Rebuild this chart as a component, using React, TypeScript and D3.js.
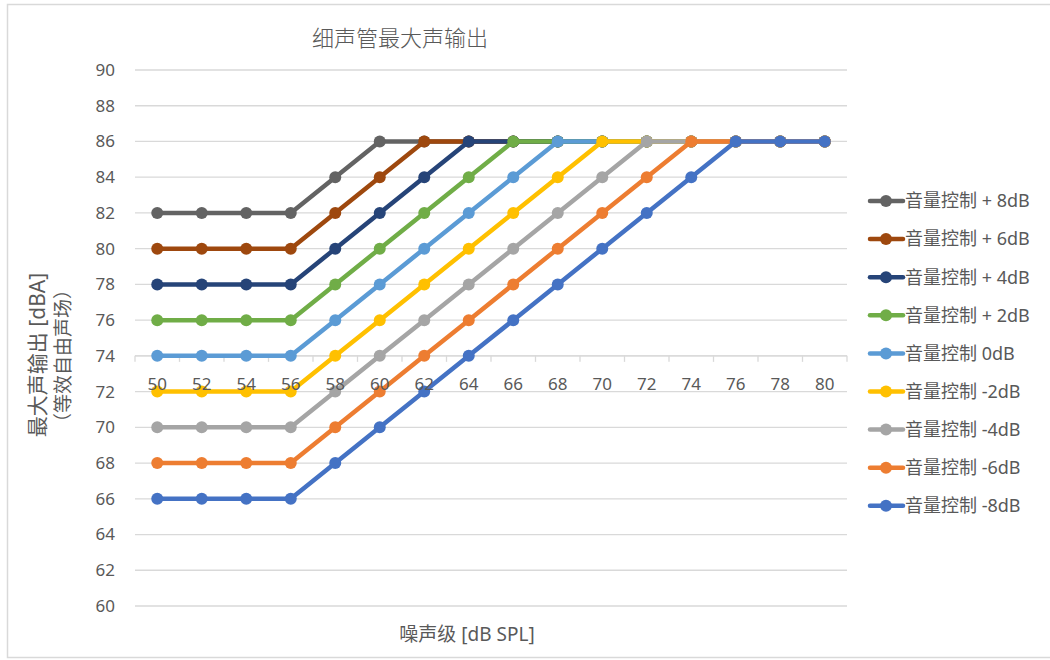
import React from "react";
import * as d3 from "d3";

const categories = [50, 52, 54, 56, 58, 60, 62, 64, 66, 68, 70, 72, 74, 76, 78, 80];
const seriesNames = [
  "音量控制 + 8dB",
  "音量控制 + 6dB",
  "音量控制 + 4dB",
  "音量控制 + 2dB",
  "音量控制 0dB",
  "音量控制 -2dB",
  "音量控制 -4dB",
  "音量控制 -6dB",
  "音量控制 -8dB",
];
const seriesColors = ["#636363", "#9E480E", "#264478", "#70AD47", "#5B9BD5", "#FFC000", "#A5A5A5", "#ED7D31", "#4472C4"];
const plus8 = [82, 82, 82, 82, 84, 86, 86, 86, 86, 86, 86, 86, 86, 86, 86, 86];
const plus6 = [80, 80, 80, 80, 82, 84, 86, 86, 86, 86, 86, 86, 86, 86, 86, 86];
const plus4 = [78, 78, 78, 78, 80, 82, 84, 86, 86, 86, 86, 86, 86, 86, 86, 86];
const plus2 = [76, 76, 76, 76, 78, 80, 82, 84, 86, 86, 86, 86, 86, 86, 86, 86];
const zero = [74, 74, 74, 74, 76, 78, 80, 82, 84, 86, 86, 86, 86, 86, 86, 86];
const minus2 = [72, 72, 72, 72, 74, 76, 78, 80, 82, 84, 86, 86, 86, 86, 86, 86];
const minus4 = [70, 70, 70, 70, 72, 74, 76, 78, 80, 82, 84, 86, 86, 86, 86, 86];
const minus6 = [68, 68, 68, 68, 70, 72, 74, 76, 78, 80, 82, 84, 86, 86, 86, 86];
const minus8 = [66, 66, 66, 66, 68, 70, 72, 74, 76, 78, 80, 82, 84, 86, 86, 86];
const seriesValues = [plus8, plus6, plus4, plus2, zero, minus2, minus4, minus6, minus8];
const yTicks = d3.range(60, 91, 2);

const FONT = "'Noto Sans', 'Noto Sans CJK SC', sans-serif";
const TEXT = "#595959";

export default function App() {
  const x = d3.scaleBand<number>().domain(categories).range([135, 847]);
  const cx = (c: number) => (x(c) as number) + x.bandwidth() / 2;
  const y = d3.scaleLinear().domain([60, 90]).range([606, 70]);
  const line = d3
    .line<number>()
    .x((_, i) => cx(categories[i]))
    .y((v) => y(v));
  const axisY = y(74);
  const boundaries = categories.map((c) => x(c) as number).concat([847]);

  return (
    <svg width={1050} height={660} style={{ position: "absolute", left: 0, top: 0, background: "#fff" }} fontFamily={FONT}>
      <rect x={7.5} y={4.5} width={1100} height={653} fill="#fff" stroke="#d9d9d9" strokeWidth={1.5} />
      <text x={400} y={46} textAnchor="middle" fontSize={22} fill={TEXT} fontFamily="'Noto Sans CJK SC', sans-serif" fontWeight={300}>
        细声管最大声输出
      </text>
      {yTicks.map((t) => (
        <g key={t}>
          <line x1={135} x2={847} y1={y(t)} y2={y(t)} stroke="#d9d9d9" strokeWidth={1.3} />
          <text x={115} y={y(t)} dy="0.35em" textAnchor="end" fontSize={17} fill={TEXT}>
            {t}
          </text>
        </g>
      ))}
      <line x1={135} x2={847} y1={axisY} y2={axisY} stroke="#d9d9d9" strokeWidth={1.3} />
      {boundaries.map((b, i) => (
        <line key={i} x1={b} x2={b} y1={axisY} y2={axisY + 6} stroke="#d9d9d9" strokeWidth={1.3} />
      ))}
      {seriesValues.map((vals, si) => (
        <g key={si}>
          <path d={line(vals) as string} fill="none" stroke={seriesColors[si]} strokeWidth={4.5} strokeLinejoin="round" />
          {vals.map((v, i) => (
            <circle key={i} cx={cx(categories[i])} cy={y(v)} r={6} fill={seriesColors[si]} />
          ))}
        </g>
      ))}
      {categories.map((c) => (
        <text key={c} x={cx(c)} y={384} dy="0.35em" textAnchor="middle" fontSize={17} fill={TEXT}>
          {c}
        </text>
      ))}
      <text x={467} y={634} dy="0.35em" textAnchor="middle" fontSize={19} fill={TEXT}>
        噪声级 [dB SPL]
      </text>
      <g transform="translate(38,355) rotate(-90)">
        <text x={0} y={0} dy="0.35em" textAnchor="middle" fontSize={21} fill={TEXT}>
          最大声输出 [dBA]
        </text>
      </g>
      <g transform="translate(63,356) rotate(-90)">
        <text x={0} y={0} dy="0.35em" textAnchor="middle" fontSize={19} fill={TEXT}>
          （等效自由声场）
        </text>
      </g>
      {seriesNames.map((n, i) => {
        const ly = 201 + i * 38.1;
        return (
          <g key={n}>
            <line x1={870} x2={903} y1={ly} y2={ly} stroke={seriesColors[i]} strokeWidth={4.5} strokeLinecap="round" />
            <circle cx={886} cy={ly} r={6} fill={seriesColors[i]} />
            <text x={905} y={ly} dy="0.35em" fontSize={18} fill={TEXT}>
              {n}
            </text>
          </g>
        );
      })}
    </svg>
  );
}
